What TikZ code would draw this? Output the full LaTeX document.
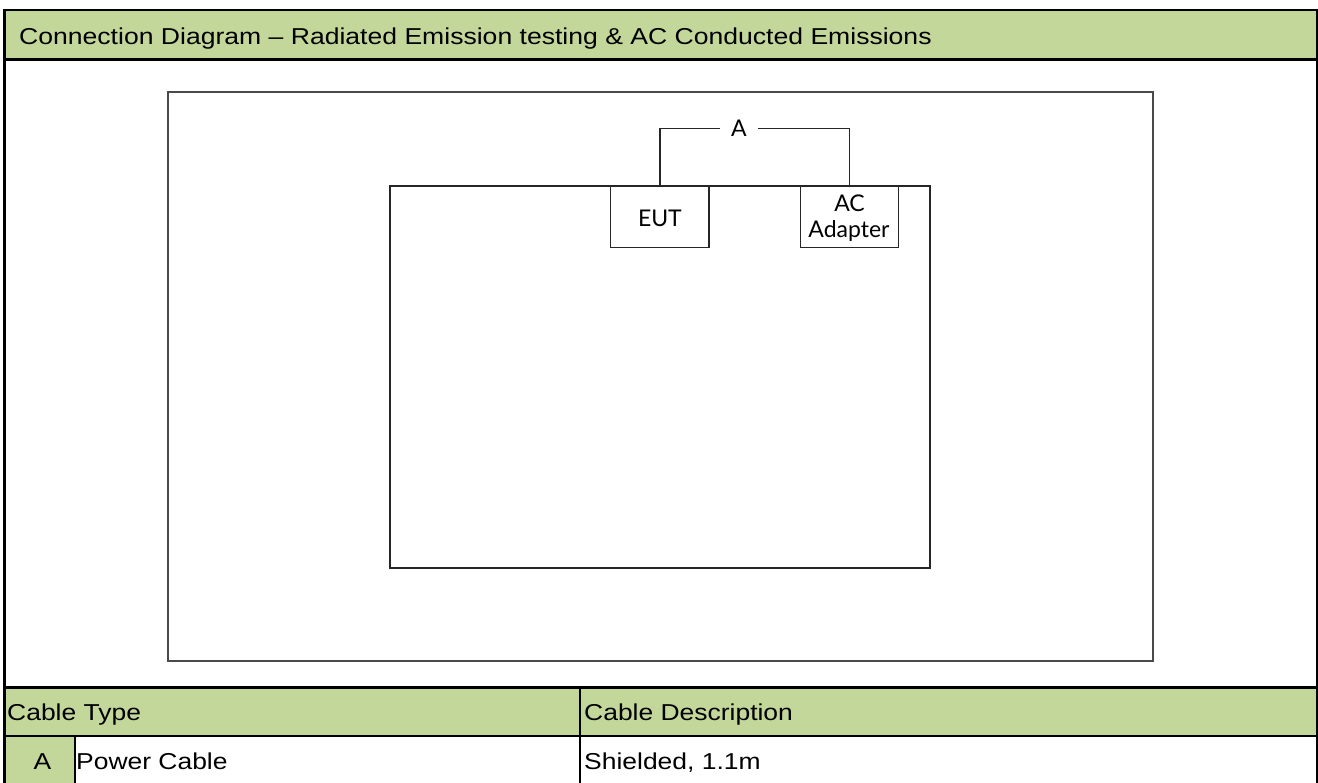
\documentclass[tikz,border=0pt]{standalone}
\usepackage{fontspec}
\setmainfont{Liberation Sans}
\newfontfamily\diagfont{Lato}
\definecolor{hdrgreen}{HTML}{C4D79B}
\definecolor{roomgray}{HTML}{4A4A4A}
\begin{document}
\begin{tikzpicture}[x=1pt,y=-1pt,
  frameline/.style={line width=2.6pt, black},
  gridline/.style={line width=2pt, black},
  tabtxt/.style={inner sep=0pt, font=\fontsize{23}{27}\selectfont},
  devbox/.style={draw=black!85, line width=1.3pt, inner sep=0pt, minimum height=61.7pt},
  devtxt/.style={inner sep=0pt, anchor=base, font=\diagfont\fontsize{23}{26}\selectfont},
  cableline/.style={draw=black!85, line width=1.3pt},
  cablelbl/.style={inner sep=0pt, minimum width=38pt, font=\diagfont\fontsize{23}{26}\selectfont}]
\useasboundingbox (0,0) rectangle (1318,783);
% fills
\fill[hdrgreen] (4,10) rectangle (1317,59.5);
\fill[hdrgreen] (4,687.5) rectangle (1317,736);
\fill[hdrgreen] (4,736) rectangle (75,783);
% frame lines
\draw[frameline] (2.9,10) -- (1318,10);
\draw[line width=3pt] (4.2,8.7) -- (4.2,783);
\draw[line width=2.4pt] (1316.8,8.7) -- (1316.8,783);
\draw[frameline] (2.9,59.5) -- (1318,59.5);
\draw[line width=3pt] (2.9,687.5) -- (1318,687.5);
\draw[gridline] (2.9,736) -- (1318,736);
\draw[gridline] (580.3,687.5) -- (580.3,783);
\draw[gridline] (75,736) -- (75,783);
% texts
\node[tabtxt, anchor=base west] (title) at (19,44.3) {\scalebox{1.155}[1]{Connection Diagram – Radiated Emission testing \& AC Conducted Emissions}};
\node[tabtxt, anchor=base west] (hdrtype) at (7,720.5) {\scalebox{1.15}[1]{Cable Type}};
\node[tabtxt, anchor=base west] (hdrdesc) at (584,720.5) {\scalebox{1.15}[1]{Cable Description}};
\node[tabtxt, anchor=base] (rowid) at (42.5,769) {\scalebox{1.15}[1]{A}};
\node[tabtxt, anchor=base west] (rowtype) at (76,769) {\scalebox{1.15}[1]{Power Cable}};
\node[tabtxt, anchor=base west] (rowdesc) at (584,769) {\scalebox{1.15}[1]{Shielded, 1.1m}};
% diagram
\node[draw=roomgray, line width=1.8pt, minimum width=985pt, minimum height=569pt, inner sep=0pt] (room) at (660.5,376.5) {};
\node[draw=black!85, line width=1.3pt, minimum width=540pt, minimum height=382pt, inner sep=0pt] (bench) at (660,377) {};
\node[devbox, minimum width=98.3pt] (eut) at (659.9,216.85) {};
\node[devbox, minimum width=97.6pt] (ac) at (849.5,216.85) {};
\node[devtxt] (eutlbl) at (659.9,226.7) {EUT};
\node[devtxt] (aclbl1) at (849.5,211.7) {AC};
\node[devtxt] (aclbl2) at (849.0,237.3) {Adapter};
\node[cablelbl] (lblA) at (739,128.5) {A};
\draw[cableline] (eut.north) -- (eut.north |- lblA.center) -- (lblA.west |- lblA.center);
\draw[cableline] (lblA.east |- lblA.center) -- (ac.north |- lblA.center) -- (ac.north);
\end{tikzpicture}
\end{document}
